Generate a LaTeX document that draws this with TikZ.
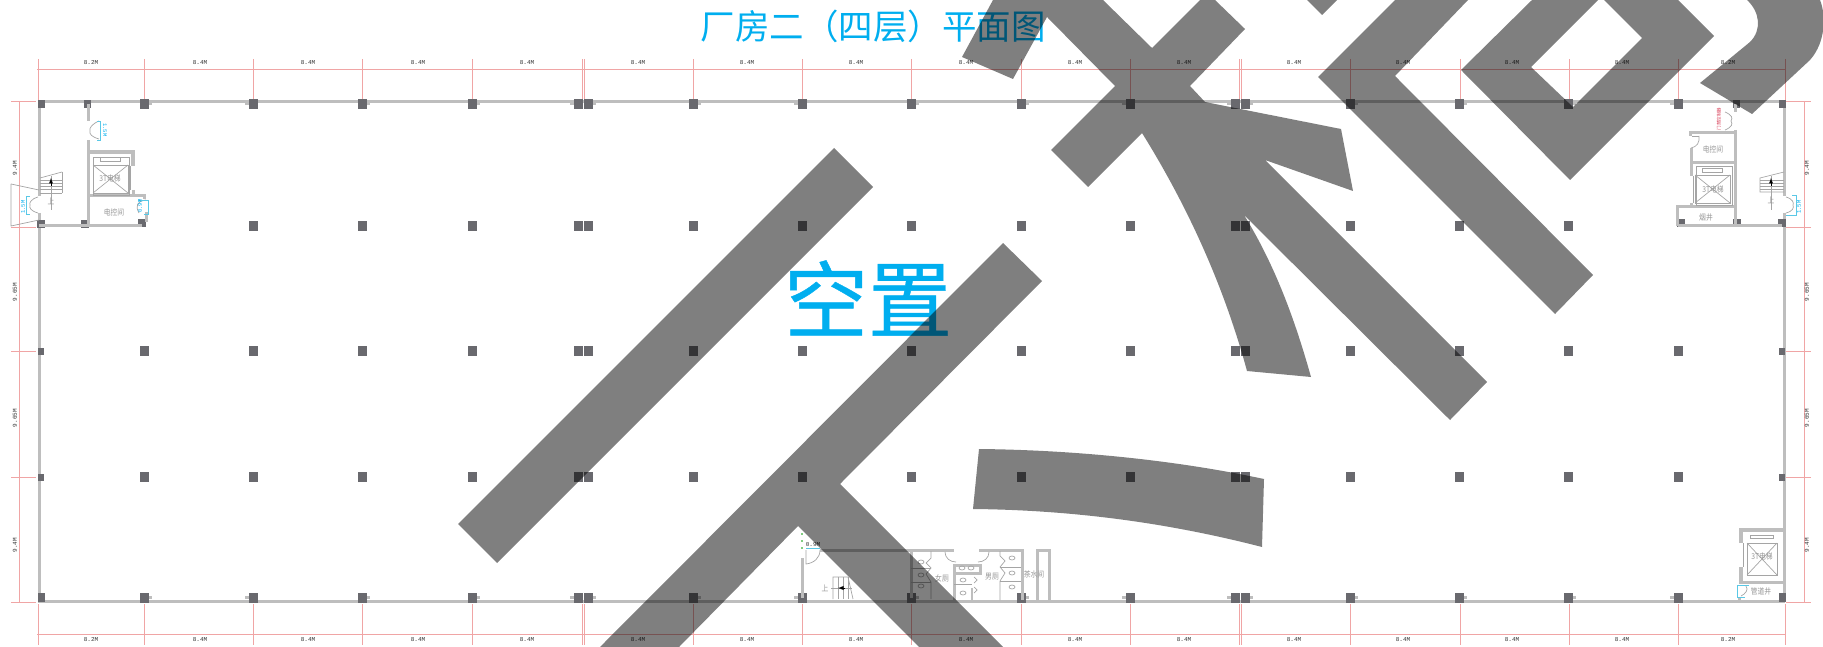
\documentclass[tikz,border=0pt]{standalone}
\usepackage{fontspec}
\newfontfamily\cjk{Noto Sans CJK SC}
\newfontfamily\cjkheavy[FakeBold=.5]{Noto Sans CJK SC}
\newfontfamily\cadfont{Liberation Mono}
\definecolor{wallgray}{RGB}{190,190,190}
\definecolor{thingray}{RGB}{165,165,165}
\definecolor{colgray}{RGB}{105,105,110}
\definecolor{dimred}{RGB}{240,165,165}
\definecolor{titleblue}{RGB}{0,174,239}
\definecolor{doorcyan}{RGB}{90,200,230}
\definecolor{labelgray}{RGB}{150,150,150}
\definecolor{dimgrayb}{RGB}{50,50,50}
\definecolor{noteRed}{RGB}{215,60,85}
\tikzset{
	wall/.style={draw=wallgray,line width=3pt},
	thinwall/.style={draw=thingray,line width=.7pt},
	dimline/.style={draw=dimred,line width=.8pt},
	doordim/.style={draw=doorcyan,line width=.7pt},
	colbox/.style={fill=colgray},
	nubbox/.style={fill=wallgray},
	dimtext/.style={font=\cadfont\fontsize{6}{6}\selectfont,text=dimgrayb,inner sep=0pt},
	doortext/.style={font=\cadfont\fontsize{5.5}{6}\selectfont,text=titleblue,inner sep=0pt},
	roomtext/.style={font=\cjk\fontsize{8}{8}\selectfont,text=labelgray,inner sep=0pt,xscale=.85},
	stamp/.style={fill=black,fill opacity=.5}
}
\begin{document}
\begin{tikzpicture}[x=1pt,y=-1pt]
	\clip (0,0) rectangle (1823,647);
	% titles
	\node[font=\cjk\fontsize{34.5}{36}\selectfont,text=titleblue,inner sep=0pt] (title) at (873,26) {厂房二（四层）平面图};
	\node[font=\cjkheavy\fontsize{84}{86}\selectfont,text=titleblue,inner sep=0pt] (vacant) at (868,298) {空置};
	% dimension lines
	\draw[dimline] (37,69) -- (1786,69);
	\draw[dimline] (37,634) -- (1786,634);
	\draw[dimline] (19,101) -- (19,602);
	\draw[dimline] (1804,101) -- (1804,602);
	\foreach \x in {38,144,253,362,472,582,584,693,802,911,1021,1130,1239,1241,1350,1460,1569,1678,1785} {
		\draw[dimline] (\x,59) -- (\x,100);
		\draw[dimline] (\x,604) -- (\x,645);
	}
	\foreach \y in {101,227,351,477,602} {
		\draw[dimline] (11,\y) -- (36,\y);
		\draw[dimline] (1786,\y) -- (1811,\y);
	}
	\foreach \x/\t in {91/8.2M,200/8.4M,308/8.4M,418/8.4M,527/8.4M,638/8.4M,747/8.4M,856/8.4M,966/8.4M,1075/8.4M,1184/8.4M,1294/8.4M,1403/8.4M,1512/8.4M,1622/8.4M,1728/8.2M} {
		\node[dimtext] (top\x) at (\x,63) {\t};
		\node[dimtext] (bot\x) at (\x,640) {\t};
	}
	\foreach \y/\t in {168/9.4M,292/9.65M,418/9.65M,545/9.4M} {
		\node[dimtext,rotate=90] (left\y) at (15,\y) {\t};
		\node[dimtext,rotate=90] (right\y) at (1807,\y) {\t};
	}
	% outer walls
	\draw[wall] (38,102) -- (1785,102);
	\draw[wall] (38,601) -- (1785,601);
	\draw[wall] (39,102) -- (39,196);
	\draw[wall] (39,213) -- (39,601);
	\draw[wall] (1784,102) -- (1784,196);
	\draw[wall] (1784,213) -- (1784,601);
	% columns
	\foreach \x/\s in {144/1,253/-1,362/1,472/1,578/-1,588/1,693/1,802/-1,911/1,1021/1,1130/-1,1235/-1,1245/1,1350/1,1459/1,1568/1,1678/-1} {
		\fill[nubbox] (\x+\s*6-2,102) rectangle ++(4,3);
		\fill[nubbox] (\x+\s*6-2,596) rectangle ++(4,3);
		\fill[colbox] (\x-4.5,99) rectangle ++(9,10);
		\fill[colbox] (\x-4.5,593) rectangle ++(9,10);
	}
	\foreach \x in {41,87,1736,1782} \fill[colbox] (\x-3.5,100) rectangle ++(7,8);
	\foreach \x in {41,1782} \fill[colbox] (\x-3.5,593) rectangle ++(7,9);
	\foreach \x in {253,362,472,578,588,693,802,911,1021,1130,1235,1245,1350,1459,1568} \fill[colbox] (\x-4.5,221) rectangle ++(9,10);
	\foreach \y in {351,477} {
		\foreach \x in {144,253,362,472,578,588,693,802,911,1021,1130,1235,1245,1350,1459,1568,1678} \fill[colbox] (\x-4.5,\y-5) rectangle ++(9,10);
		\fill[colbox] (38,\y-3.5) rectangle ++(6,7);
		\fill[colbox] (1779,\y-3.5) rectangle ++(6,7);
	}
	\foreach \x/\y in {41/224,85/224,142/223,1681/223,1737/223,1782/223} \fill[colbox] (\x-4,\y-4) rectangle ++(8,8);
	% left core
	\draw[wall] (39,226) -- (142,226);
	\draw[wall] (88,104) -- (88,121);
	\draw[wall] (88,140) -- (88,226);
	\draw[wall,line width=4pt] (88,152) -- (133,152) -- (133,166);
	\draw[wall] (133,190) -- (133,196);
	\draw[thinwall] (130,166) -- (130,190);
	\draw[wall] (88,196) -- (146,196);
	\draw[wall] (144,196) -- (144,199);
	\draw[wall] (146,212) -- (146,222);
	\draw[thinwall] (93,157) rectangle (129,195);
	\draw[thinwall] (100,157.5) rectangle (120,161.5);
	\draw[thinwall] (93,165) rectangle (128,193);
	\draw[thinwall] (93,165) -- (128,193) (93,193) -- (128,165);
	\node[roomtext] (liftA) at (110,178) {3T电梯};
	\node[roomtext] (panelA) at (114,212) {电控间};
	\draw[thinwall] (99,121) .. controls (92,124) and (89,128) .. (90,131) .. controls (89,134) and (92,137) .. (99,139);
	\draw[doordim] (97,121) -- (100,121) -- (100,140) -- (97,140);
	\node[doortext,rotate=-90] (doorA) at (105,130) {1.5M};
	\draw[thinwall] (146,200) .. controls (137,201) and (135,206) .. (139,213);
	\draw[doordim] (138,200) -- (148,200) -- (148,214) -- (144,214);
	\node[doortext,rotate=90] (doorB) at (140,206) {0.9M};
	% left stair
	\draw[thinwall] (11,184) -- (39,190);
	\draw[thinwall] (11,184) -- (11,226) -- (39,220);
	\draw[thinwall] (62,172) -- (62,193);
	\foreach \y in {180,183,186,189,193} \draw[thinwall] (40,\y) -- (62,\y);
	\draw[thinwall] (40,178) -- (62,172);
	\draw[thinwall] (51,210) -- (51,176);
	\draw[-latex,line width=.9pt] (51,186) -- (51,178);
	\node[roomtext] (upA) at (51,201) {上};
	\draw[thinwall] (38,197) .. controls (31,199) and (29,203) .. (30,205) .. controls (29,208) and (31,211) .. (38,213);
	\draw[doordim] (30,196) -- (26,196) -- (26,214) -- (30,214);
	\node[doortext,rotate=90] (doorC) at (23,207) {1.5M};
	% right core
	\draw[wall] (1678,226) -- (1782,226);
	\draw[wall] (1735,104) -- (1735,112);
	\draw[wall] (1735,130) -- (1735,226);
	\draw[wall] (1690,136) -- (1690,133) -- (1735,133);
	\draw[wall] (1691,148) -- (1691,176);
	\draw[thinwall] (1693,176) -- (1693,203);
	\draw[wall] (1691,203) -- (1691,208);
	\draw[wall] (1692,163) -- (1735,163);
	\draw[wall] (1677,226) -- (1677,207) -- (1735,207);
	\draw[thinwall] (1696,166) rectangle (1732,205);
	\draw[thinwall] (1702,168) rectangle (1722,172);
	\draw[thinwall] (1695,175) rectangle (1730,203);
	\draw[thinwall] (1695,175) -- (1730,203) (1695,203) -- (1730,175);
	\node[roomtext] (liftB) at (1713,189) {3T电梯};
	\node[roomtext] (panelB) at (1713,149) {电控间};
	\node[roomtext] (flue) at (1706,218) {烟井};
	\node[font=\cjk\fontsize{4.5}{5}\selectfont,text=noteRed,rotate=90,inner sep=0pt] (accessNote) at (1719,119) {门禁控制器};
	\draw[thinwall] (1725,112) .. controls (1732,115) and (1733,118) .. (1731,121) .. controls (1733,124) and (1732,127) .. (1725,130);
	\draw[thinwall] (1699,136) .. controls (1700,142) and (1697,147) .. (1691,148);
	\draw[thinwall] (1692,136) -- (1699,136);
	\draw[thinwall] (1784,172) -- (1760,178) -- (1760,192) -- (1784,192);
	\foreach \y in {180,183,186,189} \draw[thinwall] (1760,\y) -- (1784,\y);
	\draw[thinwall] (1771,210) -- (1771,176);
	\draw[-latex,line width=.9pt] (1771,186) -- (1771,178);
	\node[roomtext] (upB) at (1771,200) {上};
	\draw[thinwall] (1786,197) .. controls (1793,199) and (1794,203) .. (1793,205) .. controls (1794,208) and (1793,211) .. (1786,213);
	\draw[doordim] (1792,195) -- (1796,195) -- (1796,215) -- (1786,215);
	\node[doortext,rotate=90] (doorD) at (1799,207) {1.5M};
	% lower right core
	\draw[wall,line width=4pt] (1741,543) -- (1741,530) -- (1784,530);
	\draw[thinwall] (1743,543) -- (1743,567);
	\draw[wall,line width=4pt] (1741,567) -- (1741,582);
	\draw[wall] (1739,582) -- (1784,582);
	\draw[wall] (1739,597) -- (1739,601);
	\draw[thinwall] (1750,535) rectangle (1773,538);
	\draw[thinwall] (1747,543) rectangle (1777,575);
	\draw[thinwall] (1747,543) -- (1777,575) (1747,575) -- (1777,543);
	\node[roomtext] (liftC) at (1762,556) {3T电梯};
	\node[roomtext] (shaft) at (1761,591) {管道井};
	\draw[doordim] (1749,585) -- (1737,585) -- (1737,597) -- (1745,597);
	\draw[thinwall] (1746,586) .. controls (1749,590) and (1745,594) .. (1741,596);
	% toilets and lower stair
	\draw[wall] (802,558) -- (802,598);
	\fill[green!60!black] (802,534) circle (.9) (802,541) circle (.9) (802,548) circle (.9);
	\draw[doordim] (806,548) -- (820,548);
	\node[dimtext] (doorE) at (813,545) {0.9M};
	\draw[thinwall] (820,550) .. controls (820,558) and (814,563) .. (806,564) -- (806,550);
	\draw[wall] (820,550) -- (954,550);
	\draw[wall] (979,550) -- (1022,550) -- (1022,600);
	\draw[wall] (911,550) -- (911,598);
	\draw[wall] (1037,600) -- (1037,550) -- (1049,550) -- (1049,600);
	\draw[wall] (954,575) -- (954,565) -- (980,565) -- (980,575);
	\draw[wall] (954,573) -- (980,573);
	\draw[wall] (954,573) -- (954,600);
	\draw[wall,line width=2pt] (972,588) -- (972,600);
	\draw[thinwall] (945,552) .. controls (945,558) and (950,562) .. (956,562);
	\draw[thinwall] (989,552) .. controls (989,558) and (984,562) .. (978,562);
	\draw[thinwall] (911,568) -- (931,568) (911,582) -- (931,582);
	\draw[thinwall] (931,551) -- (931,558) -- (926,563) -- (931,568) -- (926,574) -- (931,582) -- (931,599);
	\draw[thinwall] (1000,551) -- (1000,556) -- (1005,561) -- (1000,567) -- (1005,573) -- (1000,581) -- (1000,600);
	\draw[thinwall] (1000,567) -- (1021,567) (1000,581) -- (1021,581);
	\draw[thinwall] (954,584) -- (972,584);
	\foreach \x/\y in {921/562,921/575,921/586,962/568,971/568,963/580,963/593,1012/558,1012/573,1012/587} \draw[thinwall] (\x,\y) ellipse (3 and 2);
	\foreach \y in {580,590} \draw[thinwall] (974,\y-3) -- (977,\y) -- (974,\y+3);
	\node[roomtext] (ladies) at (942,578) {女厕};
	\node[roomtext] (gents) at (992,577) {男厕};
	\node[roomtext] (tea) at (1034,574) {茶水间};
	\draw[thinwall] (833,599) -- (833,577) -- (848,577) -- (853,599);
	\foreach \x in {838,843,848} \draw[thinwall] (\x,577) -- (\x,599);
	\draw[thinwall] (831,588) -- (852,588);
	\draw[-latex,line width=.9pt] (845,588) -- (838,588);
	\node[roomtext] (upC) at (825,588) {上};
	% stamp across the sheet
	\fill[stamp] (834,148) -- (873,187) -- (497,563) -- (458,524) -- cycle;
	\fill[stamp] (1003,243) -- (1042,281) -- (840,484) -- (1003,647) -- (919,647) -- (798,526) -- (679,647) -- (600,647) -- cycle;
	\fill[stamp] (979,449) .. controls (1075,450) and (1175,460) .. (1264,479) -- (1262,547) .. controls (1165,522) and (1070,510) .. (973,509) -- cycle;
	\fill[stamp] (993,0) -- (962,57) -- (1013,79) -- (1047,17) -- (1115,86) -- (1051,150) -- (1088,187) -- (1142,133) .. controls (1190,210) and (1225,290) .. (1247,371) -- (1311,377) .. controls (1295,320) and (1275,265) .. (1244,215) -- (1450,420) -- (1487,382) -- (1265,160) -- (1353,191) -- (1341,129) -- (1205,102) -- (1190,86) -- (1245,29) -- (1215,0) -- (1200,0) -- (1152,48) -- (1103,0) -- cycle;
	\fill[stamp] (1307,0) -- (1322,15) -- (1337,0) -- cycle;
	\fill[stamp] (1395,0) -- (1318,77) -- (1555,314) -- (1593,275) -- (1395,76) -- (1468,0) -- cycle;
	\fill[stamp] (1532,0) -- (1461,70) -- (1570,180) -- (1714,36) -- (1678,0) -- (1604,0) -- (1642,38) -- (1573,107) -- (1531,67) -- (1598,0) -- cycle;
	\fill[stamp] (1747,0) .. controls (1760,12) and (1762,30) .. (1750,42) -- (1700,83) -- (1752,114) -- (1810,60) .. controls (1826,42) and (1826,15) .. (1820,0) -- cycle;
\end{tikzpicture}
\end{document}
